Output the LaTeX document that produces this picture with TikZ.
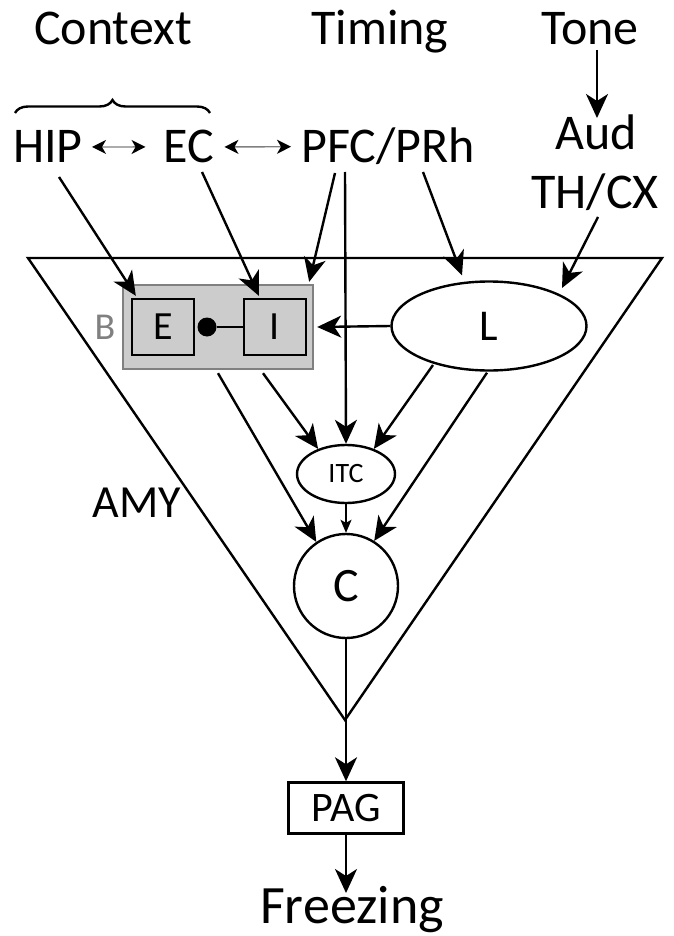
\documentclass[tikz,border=0pt]{standalone}
\usepackage{fontspec}
\setmainfont{Carlito}
\usetikzlibrary{arrows.meta,decorations.pathreplacing,calc,shapes.geometric}

\tikzstyle{word} = [inner sep=0pt, anchor=base, font=\fontsize{50}{50}\selectfont]
\tikzstyle{cell} = [rectangle, draw, line width=2.4pt, fill=gray!40, minimum width=62pt, minimum height=56pt, inner sep=0pt, font=\fontsize{40}{40}\selectfont]
\tikzstyle{line} = [draw, -{Stealth[length=24pt,width=22pt,inset=7pt]}, line width=2.4pt]
\tikzstyle{thin} = [draw, -{Stealth[length=13pt,width=11pt,inset=3pt]}, line width=1.4pt]
\tikzstyle{recip} = [draw=gray, line width=1.4pt, {Stealth[black,length=14pt,width=14pt,inset=4pt]}-{Stealth[black,length=14pt,width=14pt,inset=4pt]}]

\begin{document}
\begin{tikzpicture}[x=1pt, y=-1pt]
    \useasboundingbox (0,0) rectangle (673,936);

    % INPUTS
        \node [word] (context) at (113,45) {Context};
        \node [word] (timing) at (380,45) {Timing};
        \node [word] (tone) at (590,45) {Tone};
        \node [word] (hip) at (48,163) {HIP};
        \node [word] (ec) at (189,163) {EC};
        \node [word] (pfc) at (388,163) {PFC/PRh};
        \node [word] (aud) at (596,150) {Aud};
        \node [word] (thcx) at (595,208) {TH/CX};

    % BRACE over HIP and EC
        \draw [line width=2.4pt, decorate,
               decoration={brace, amplitude=13pt}]
            (15,113) -- (210,113);

    % AMY triangle
        \coordinate (tl) at (28,258);
        \coordinate (tr) at (662,258);
        \coordinate (apex) at (345,720);
        \draw [line width=2.4pt] (tl) -- (tr) -- (apex) -- cycle;
        \node [word, font=\fontsize{46}{46}\selectfont] (amy) at (137,517) {AMY};

    % B: E and I inside the gray box
        \node [rectangle, draw=gray, line width=2.4pt, fill=gray!40,
               minimum width=190pt, minimum height=84pt]
            (b) at (218,327) {};
        \node [word, text=gray, font=\fontsize{38}{38}\selectfont]
            (blabel) at (105,339) {B};
        \node [cell] (e) at (163,327) {E};
        \node [cell] (i) at (275,327) {I};
        \node [circle, fill, inner sep=0pt, minimum size=19pt] (dot) at (207,327) {};
        \draw [line width=2.4pt] (dot) -- (i.west);

    % L, ITC and C
        \node [ellipse, draw, line width=2.4pt, minimum width=195pt,
               minimum height=89pt, font=\fontsize{44}{44}\selectfont]
            (l) at (489,326) {L};
        \node [ellipse, draw, line width=2.4pt, minimum width=98pt,
               minimum height=58pt, inner sep=0pt, font=\fontsize{28}{28}\selectfont]
            (itc) at (346,474) {ITC};
        \node [circle, draw, line width=2.4pt, minimum size=104pt,
               font=\fontsize{48}{48}\selectfont]
            (c) at (346,586) {C};

    % OUTPUT
        \node [rectangle, draw, line width=2.4pt, minimum width=115pt,
               minimum height=51pt, inner sep=0pt, font=\fontsize{42}{42}\selectfont]
            (pag) at (346,808) {PAG};
        \node [word, font=\fontsize{54}{54}\selectfont]
            (freezing) at (352,923) {Freezing};
        \coordinate (fz) at (346,893);

    % LINE reciprocal links
        \path [recip] ($(hip.east)+(9,0)$) -- ($(ec.west)+(-18,0)$);
        \path [recip] ($(ec.east)+(10,0)$) -- ($(pfc.west)+(-10,0)$);

    % LINE inputs -> amygdala
        \path [line] ($(tone.base)+(7,5)$) -- ($(aud.base)+(1,-32)$);
        \path [line] ($(hip.base)+(11,14)$) -- ($(e.north west)+(5,-2)$);
        \path [line] ($(ec.base)+(13,9)$) -- ($(i.north west)+(16,-2)$);
        \path [line] ($(pfc.base)+(-53,10)$) -- ($(b.north east)+(-5,-2)$);
        \path [line] ($(pfc.base)+(-43,9)$) -- (itc.north);
        \path [line] ($(pfc.base)+(35,9)$) -- ($(l.north)+(-27,-5)$);
        \path [line] ($(thcx.base)+(3,9)$) -- ($(l.center)+(73,-38)$);
        \path [line] (l.west) -- ($(b.east)+(3,0)$);

    % LINE inside AMY
        \path [line] ($(b.south)+(45,3)$) -- (itc.138);
        \path [line] ($(l.center)+(-56,39)$) -- (itc.42);
        \path [line] ($(b.south)+(0,3)$) -- (c.124);
        \path [line] ($(l.south)+(-2,1)$) -- (c.58);
        \path [thin] (itc.south) -- (c.north);

    % LINE C -> PAG -> Freezing
        \path [line] (c.south) -- (pag.north);
        \path [line] (pag.south) -- (fz);
\end{tikzpicture}
\end{document}
